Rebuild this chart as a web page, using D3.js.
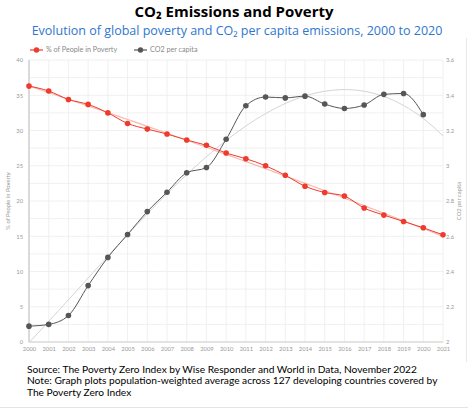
<!DOCTYPE html>
<html>
<head>
<meta charset="utf-8">
<script src="https://cdn.jsdelivr.net/npm/d3@7"></script>
<style>
  body { margin: 0; background: #fff; }
  svg { display: block; }
</style>
</head>
<body>
<svg id="chart"></svg>
<script>
// Values
var years = [2000, 2001, 2002, 2003, 2004, 2005, 2006, 2007, 2008, 2009, 2010,
             2011, 2012, 2013, 2014, 2015, 2016, 2017, 2018, 2019, 2020, 2021];
var povertyData = [36.3, 35.6, 34.4, 33.7, 32.5, 31.0, 30.2, 29.5, 28.65, 27.9, 26.8,
                   26.0, 25.0, 23.65, 22.1, 21.2, 20.7, 19.0, 18.0, 17.1, 16.2, 15.2];
var co2Years = years.slice(0, 21);
var co2Data = [2.09, 2.10, 2.15, 2.32, 2.48, 2.61, 2.74, 2.85, 2.96, 2.99, 3.15,
               3.34, 3.39, 3.385, 3.395, 3.35, 3.325, 3.345, 3.405, 3.41, 3.29];
var leftTicks = [0, 5, 10, 15, 20, 25, 30, 35, 40];
var rightTicks = [2, 2.2, 2.4, 2.6, 2.8, 3, 3.2, 3.4, 3.6];

var width = 468, height = 410;
var margin = {top: 60, right: 25, bottom: 68, left: 29};

var svg = d3.select("#chart")
            .attr("width", width)
            .attr("height", height)
            .style("font-family", "Lato, 'Noto Sans', sans-serif");

// page edges
svg.append("line").attr("x1", 0).attr("x2", width).attr("y1", 407.5).attr("y2", 407.5)
   .attr("stroke", "#e4e4e4");
svg.append("line").attr("x1", 466.5).attr("x2", 466.5).attr("y1", 38).attr("y2", 362)
   .attr("stroke", "#e8e8e8");

// titles
svg.append("text")
   .attr("x", 234).attr("y", 16.5)
   .attr("text-anchor", "middle")
   .attr("font-size", 15).attr("font-weight", "bold").attr("fill", "#000")
   .style("font-family", "'Open Sans', sans-serif")
   .text("CO₂ Emissions and Poverty");

svg.append("text")
   .attr("x", 237).attr("y", 34.5)
   .attr("text-anchor", "middle")
   .attr("font-size", 12.5).attr("fill", "#2f76cf")
   .style("font-family", "'Open Sans', sans-serif")
   .text("Evolution of global poverty and CO₂ per capita emissions, 2000 to 2020");

var x = d3.scaleLinear()
          .domain([2000, 2021])
          .range([margin.left, width - margin.right]);
var yL = d3.scaleLinear().domain([0, 40]).range([height - margin.bottom, margin.top]);
var yR = d3.scaleLinear().domain([2, 3.6]).range([height - margin.bottom, margin.top]);

// grid
var grid = svg.append("g").attr("stroke", "#ececec").attr("stroke-width", 0.8);
grid.selectAll(".vg").data(years).enter().append("line")
    .attr("x1", d => x(d)).attr("x2", d => x(d))
    .attr("y1", yL(40)).attr("y2", yL(0));
grid.selectAll(".hg").data(d3.range(0, 40.1, 2.5)).enter().append("line")
    .attr("x1", x(2000)).attr("x2", x(2021))
    .attr("y1", d => yL(d)).attr("y2", d => yL(d));

// axes
var tickStyle = function(g) {
  g.select(".domain").remove();
  g.selectAll(".tick line").remove();
  g.selectAll("text").attr("fill", "#9a9a9a").attr("font-size", 5.8)
   .style("font-family", "Lato, sans-serif");
};

svg.append("g")
   .attr("transform", `translate(0,${yL(0)})`)
   .call(d3.axisBottom(x).tickValues(years).tickFormat(d3.format("d")).tickSize(0).tickPadding(5))
   .call(tickStyle);
svg.append("g")
   .attr("transform", `translate(${margin.left},0)`)
   .call(d3.axisLeft(yL).tickValues(leftTicks).tickSize(0).tickPadding(6))
   .call(tickStyle);
svg.append("g")
   .attr("transform", `translate(${width - margin.right},0)`)
   .call(d3.axisRight(yR).tickValues(rightTicks).tickFormat(d => d3.format("")(+d.toFixed(1))).tickSize(0).tickPadding(3))
   .call(tickStyle);

svg.append("line").attr("x1", x(2000)).attr("x2", x(2000)).attr("y1", yL(40)).attr("y2", yL(0))
   .attr("stroke", "#bdbdbd").attr("stroke-width", 1);
svg.append("line").attr("x1", x(2000)).attr("x2", x(2021)).attr("y1", yL(0)).attr("y2", yL(0))
   .attr("stroke", "#cfcfcf").attr("stroke-width", 1);

// axis titles
svg.append("text")
   .attr("transform", `translate(10,${(yL(0) + yL(40)) / 2}) rotate(-90)`)
   .attr("text-anchor", "middle").attr("font-size", 5.8).attr("fill", "#9a9a9a")
   .text("% of People in Poverty");
svg.append("text")
   .attr("transform", `translate(461,${(yL(0) + yL(40)) / 2}) rotate(-90)`)
   .attr("text-anchor", "middle").attr("font-size", 5.8).attr("fill", "#9a9a9a")
   .text("CO2 per capita");

// polynomial trend lines (least squares fit on the data)
function polyFit(xs, ys, order) {
  var n = order + 1;
  var A = [], b = [];
  for (var i = 0; i < n; i++) {
    A.push(new Array(n).fill(0));
    b.push(0);
  }
  xs.forEach(function(xv, k) {
    var t = xv - 2000;
    for (var i = 0; i < n; i++) {
      b[i] += ys[k] * Math.pow(t, i);
      for (var j = 0; j < n; j++) A[i][j] += Math.pow(t, i + j);
    }
  });
  for (var c = 0; c < n; c++) {
    var p = c;
    for (var r = c + 1; r < n; r++) if (Math.abs(A[r][c]) > Math.abs(A[p][c])) p = r;
    [A[c], A[p]] = [A[p], A[c]];
    [b[c], b[p]] = [b[p], b[c]];
    for (var r2 = c + 1; r2 < n; r2++) {
      var f = A[r2][c] / A[c][c];
      for (var j2 = c; j2 < n; j2++) A[r2][j2] -= f * A[c][j2];
      b[r2] -= f * b[c];
    }
  }
  var coef = new Array(n).fill(0);
  for (var i2 = n - 1; i2 >= 0; i2--) {
    var s = b[i2];
    for (var j3 = i2 + 1; j3 < n; j3++) s -= A[i2][j3] * coef[j3];
    coef[i2] = s / A[i2][i2];
  }
  return function(xv) {
    var t = xv - 2000;
    return coef.reduce((acc, cv, i) => acc + cv * Math.pow(t, i), 0);
  };
}

var trendXs = d3.range(2000, 2021.01, 0.25);
var co2Trend = polyFit(co2Years, co2Data, 3);
var povTrend = polyFit(years, povertyData, 2);

svg.append("path")
   .datum(trendXs)
   .attr("fill", "none").attr("stroke", "#d4d4d4").attr("stroke-width", 1)
   .attr("d", d3.line().x(d => x(d)).y(d => yR(co2Trend(d))));
svg.append("path")
   .datum(trendXs)
   .attr("fill", "none").attr("stroke", "#f9b8b0").attr("stroke-width", 1.2)
   .attr("d", d3.line().x(d => x(d)).y(d => yL(povTrend(d))));

// series lines
var red = "#ef3b2c", gray = "#565656";
svg.append("path")
   .datum(povertyData)
   .attr("fill", "none").attr("stroke", red).attr("stroke-width", 1)
   .attr("d", d3.line().x((d, i) => x(years[i])).y(d => yL(d)).curve(d3.curveMonotoneX));
svg.append("path")
   .datum(co2Data)
   .attr("fill", "none").attr("stroke", gray).attr("stroke-width", 1)
   .attr("d", d3.line().x((d, i) => x(co2Years[i])).y(d => yR(d)).curve(d3.curveMonotoneX));

svg.selectAll(".pp").data(povertyData).enter().append("circle")
   .attr("cx", (d, i) => x(years[i])).attr("cy", d => yL(d))
   .attr("r", 2.8).attr("fill", red);
svg.selectAll(".cp").data(co2Data).enter().append("circle")
   .attr("cx", (d, i) => x(co2Years[i])).attr("cy", d => yR(d))
   .attr("r", 2.8).attr("fill", gray);

// legend
var legend = [
  {label: "% of People in Poverty", color: red, x: 30},
  {label: "CO2 per capita", color: gray, x: 134}
];
var lg = svg.selectAll(".lg").data(legend).enter().append("g")
            .attr("transform", d => `translate(${d.x},50)`);
lg.append("line").attr("x1", 0).attr("x2", 13).attr("stroke", d => d.color).attr("stroke-width", 1.2);
lg.append("circle").attr("cx", 6.5).attr("r", 2.7).attr("fill", d => d.color);
lg.append("text").attr("x", 16).attr("y", 2.4).attr("font-size", 7.2).attr("fill", "#8a8a8a")
  .text(d => d.label);

// footnotes
var notes = [
  "Source: The Poverty Zero Index by Wise Responder and World in Data, November 2022",
  "Note: Graph plots population-weighted average across 127 developing countries covered by",
  "The Poverty Zero Index"
];
svg.selectAll(".note").data(notes).enter().append("text")
   .attr("x", 27).attr("y", (d, i) => 373 + i * 11.4)
   .attr("font-size", 10.2).attr("fill", "#000")
   .style("font-family", "Lato, sans-serif")
   .text(d => d);
</script>
</body>
</html>
